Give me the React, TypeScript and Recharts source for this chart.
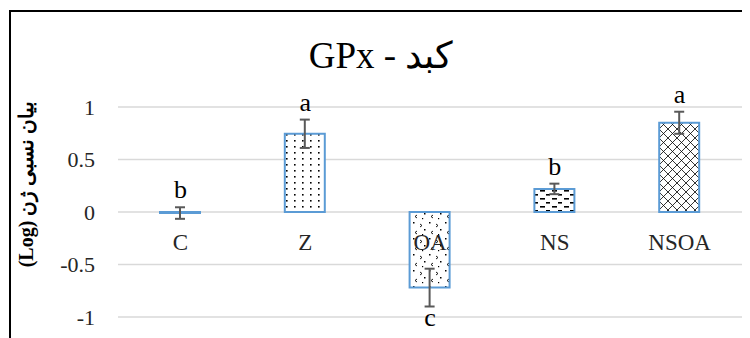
import React from 'react';
import {
  ComposedChart, Bar, Cell, ErrorBar, Scatter,
  XAxis, YAxis, CartesianGrid,
} from 'recharts';

// treatment groups and relative GPx expression (log) in liver
const groups = ['C', 'Z', 'OA', 'NS', 'NSOA'];
const expression = [-0.01, 0.745, -0.72, 0.22, 0.85];
const errors = [0.055, 0.135, 0.18, 0.05, 0.105];
const letters = ['b', 'a', 'c', 'b', 'a'];
const yTicks = [-1, -0.5, 0, 0.5, 1];

const data = groups.map((name, i) => {
  const top = expression[i] + errors[i];
  const above = top >= 0;
  return {
    name,
    value: expression[i],
    err: errors[i],
    letter: letters[i],
    above,
    tip: above ? top : expression[i] - errors[i],
  };
});

const fillFor: Record<string, string> = {
  C: 'url(#pat-plain)',
  Z: 'url(#pat-dots)',
  OA: 'url(#pat-confetti)',
  NS: 'url(#pat-dash)',
  NSOA: 'url(#pat-cross)',
};

const W = 739;
const H = 326;
const PLOT_TOP = 95;
const PLOT_H = 210;
const ZERO_Y = PLOT_TOP + PLOT_H / 2;
const serif = '"Liberation Serif", "Times New Roman", serif';
const textColor = '#262626';

function CategoryTick({ x, payload }: { x?: number; payload?: { value: string } }) {
  return (
    <text x={x} y={ZERO_Y + 38} textAnchor="middle" fontFamily={serif} fontSize={23} fill={textColor}>
      {payload?.value}
    </text>
  );
}

function ValueTick({ x, y, payload }: { x?: number; y?: number; payload?: { value: number } }) {
  return (
    <text x={x} y={y} dy="0.36em" textAnchor="end" fontFamily={serif} fontSize={22} fill={textColor}>
      {payload?.value}
    </text>
  );
}

function LetterMark({ cx, cy, payload }: { cx?: number; cy?: number; payload?: { letter: string; above: boolean } }) {
  if (cx == null || cy == null || !payload) return null;
  return (
    <text
      x={cx}
      y={payload.above ? cy - 9 : cy + 19}
      textAnchor="middle"
      fontFamily={serif}
      fontSize={26}
      fill="#000"
    >
      {payload.letter}
    </text>
  );
}

export default function App() {
  return (
    <div
      style={{
        width: 741, height: 328, marginTop: 2, marginLeft: 1,
        borderTop: '2px solid #000', borderLeft: '2px solid #000',
        boxSizing: 'border-box', background: '#fff',
      }}
    >
      <ComposedChart width={W} height={H} data={data} margin={{ top: PLOT_TOP, right: 8, bottom: 0, left: 47 }}>
        <defs>
          <pattern id="pat-plain" width="8" height="8" patternUnits="userSpaceOnUse">
            <rect width="8" height="8" fill="#fff" />
          </pattern>
          <pattern id="pat-dots" width="8" height="6" patternUnits="userSpaceOnUse">
            <rect width="8" height="6" fill="#fff" />
            <rect x="3" y="2" width="1.6" height="1.6" fill="#000" />
          </pattern>
          <pattern id="pat-confetti" width="16" height="16" patternUnits="userSpaceOnUse">
            <rect width="16" height="16" fill="#fff" />
            <rect x="2" y="2" width="1.5" height="1.5" fill="#000" />
            <path d="M9 4 l2 1.5 l-2 1.5" stroke="#000" strokeWidth="0.9" fill="none" />
            <rect x="13" y="9" width="1.5" height="1.5" fill="#000" />
            <path d="M6 11 l-2 1.5 l2 1.5" stroke="#000" strokeWidth="0.9" fill="none" />
            <rect x="11" y="14" width="1.2" height="1.2" fill="#000" />
          </pattern>
          <pattern id="pat-dash" width="12" height="8" patternUnits="userSpaceOnUse">
            <rect width="12" height="8" fill="#fff" />
            <rect x="1" y="2" width="5" height="1.6" fill="#000" />
            <rect x="7" y="6" width="4" height="1.6" fill="#000" />
          </pattern>
          <pattern id="pat-cross" width="9" height="9" patternUnits="userSpaceOnUse">
            <rect width="9" height="9" fill="#fff" />
            <path d="M0 0 L9 9 M9 0 L0 9" stroke="#000" strokeWidth="0.8" />
          </pattern>
        </defs>

        <text x={370} y={56} textAnchor="middle" fontFamily={serif} fontSize={37} fill="#000">
          GPx - کبد
        </text>

        <CartesianGrid vertical={false} stroke="#d9d9d9" strokeWidth={1.5} />
        <XAxis
          dataKey="name"
          height={21}
          axisLine={false}
          tickLine={false}
          tick={<CategoryTick />}
          interval={0}
        />
        <YAxis
          width={60}
          domain={[-1, 1]}
          ticks={yTicks}
          axisLine={false}
          tickLine={false}
          tickSize={0}
          tickMargin={23}
          tick={<ValueTick />}
          label={{
            content: () => (
              <text
                transform="rotate(-90, 15, 172)"
                x={15}
                y={172}
                textAnchor="middle"
                dominantBaseline="central"
                direction="rtl"
                style={{ direction: 'rtl' }}
                fontFamily={serif}
                fontWeight="bold"
                fontSize={20}
                fill="#000"
              >
                بیان نسبی ژن (Log)
              </text>
            ),
          }}
        />

        <Bar dataKey="value" barSize={40} stroke="#5b9bd5" strokeWidth={2} isAnimationActive={false}>
          {data.map(d => (
            <Cell key={d.name} fill={fillFor[d.name]} />
          ))}
          <ErrorBar dataKey="err" width={5} stroke="#595959" strokeWidth={2} />
        </Bar>

        <Scatter dataKey="tip" shape={<LetterMark />} legendType="none" isAnimationActive={false} />
      </ComposedChart>
    </div>
  );
}
